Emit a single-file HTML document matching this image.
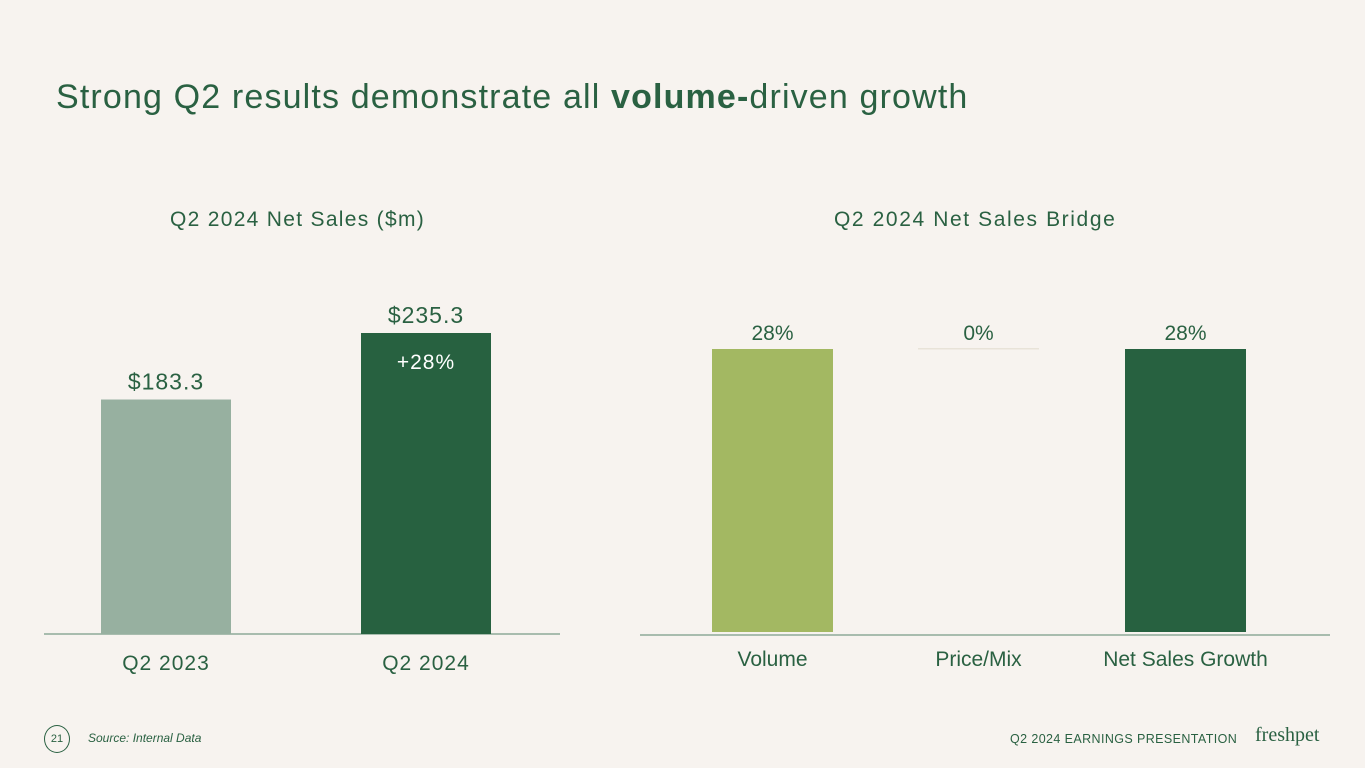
<!DOCTYPE html>
<html><head><meta charset="utf-8"><style>
body{margin:0;width:1365px;height:768px;background:#f7f3ef;font-family:"Liberation Sans",sans-serif;overflow:hidden;position:relative;color:#2a6142}
.t{position:absolute;white-space:nowrap}
</style></head><body>
<div class="t" style="left:56px;top:78px;font-size:34px;letter-spacing:1.15px;color:#2a6142">Strong Q2 results demonstrate all <b>volume-</b>driven growth</div>
<div class="t" style="left:170px;top:208px;font-size:21px;letter-spacing:1.3px;color:#2a6142">Q2 2024 Net Sales ($m)</div>
<div class="t" style="left:834px;top:208px;font-size:21px;letter-spacing:1.6px;color:#2a6142">Q2 2024 Net Sales Bridge</div>
<svg id="c" width="1365" height="768" style="position:absolute;left:0;top:0"></svg>
<div class="t" style="left:44px;top:725px;width:24px;height:26px;border:1.5px solid #2a6142;border-radius:50%;font-size:11px;text-align:center;line-height:26px">21</div>
<div class="t" style="left:88px;top:731px;font-size:12px;font-style:italic">Source: Internal Data</div>
<div class="t" style="left:1010px;top:732px;font-size:12.5px;letter-spacing:0.4px">Q2 2024 EARNINGS PRESENTATION</div>
<div class="t" style="left:1255px;top:724px;font-size:20px;font-family:'Liberation Serif',serif">freshpet</div>
<script>
const ns="http://www.w3.org/2000/svg",svg=document.getElementById('c');
const leftCats=["Q2 2023","Q2 2024"];
const leftVals=[183.3,235.3];
const leftLabels=["$183.3","$235.3"];
const growthLabel="+28%";
const rightCats=["Volume","Price/Mix","Net Sales Growth"];
const rightVals=[28,0,28];
const rightLabels=["28%","0%","28%"];
function mk(t,a,txt){const e=document.createElementNS(ns,t);for(const k in a)e.setAttribute(k,a[k]);if(txt!=null)e.textContent=txt;svg.appendChild(e);return e;}
// left
const lBase=634,lScale=301/235.3,lx=[101,361],lw=130,lCol=["#97b0a0","#276140"];
let e=mk('line',{x1:44,x2:560,y1:lBase,y2:lBase,stroke:"#7a9a88","stroke-width":1.2});

leftVals.forEach((v,i)=>{const h=v*lScale;
 let r=mk('rect',{x:lx[i],y:lBase-h,width:lw,height:h,fill:lCol[i]});
 
 let t=mk('text',{x:lx[i]+lw/2,y:lBase-h-10,"text-anchor":"middle","font-size":23,"letter-spacing":1,fill:"#2a6142"},leftLabels[i]);
 
 t=mk('text',{x:lx[i]+lw/2,y:670,"text-anchor":"middle","font-size":21,"letter-spacing":1,fill:"#2a6142"},leftCats[i]);
 
});
e=mk('text',{x:lx[1]+lw/2,y:lBase-leftVals[1]*lScale+36,"text-anchor":"middle","font-size":21,"letter-spacing":1,fill:"#fff"},growthLabel);

// right
const rBase=632,rScale=283/28,rx=[712,918,1125],rw=121,rCol=["#a3b862","#e8e3d8","#276140"];
e=mk('line',{x1:640,x2:1330,y1:635,y2:635,stroke:"#7a9a88","stroke-width":1.2});

rightVals.forEach((v,i)=>{const h=Math.max(v*rScale,1.5);
 let r=mk('rect',{x:rx[i],y:rBase-v*rScale-(v?0:284),width:rw,height:h,fill:rCol[i]});
 
 let t=mk('text',{x:rx[i]+rw/2,y:rBase-283-9,"text-anchor":"middle","font-size":21,fill:"#2a6142"},rightLabels[i]);
 
 t=mk('text',{x:rx[i]+rw/2,y:666,"text-anchor":"middle","font-size":21,fill:"#2a6142"},rightCats[i]);
 
});
</script>
</body></html>
